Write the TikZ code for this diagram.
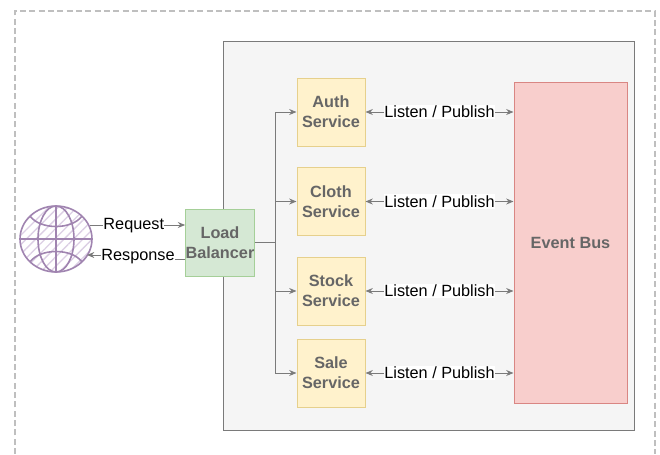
\documentclass[tikz,border=0pt]{standalone}
\usepackage{fontspec}
\setmainfont{Liberation Sans}
\usetikzlibrary{arrows.meta,shapes.geometric,patterns.meta}
\definecolor{edgegray}{HTML}{7A7A7A}
\definecolor{textgray}{HTML}{666666}
\definecolor{yellowfill}{HTML}{FFF2CC}
\definecolor{yellowline}{HTML}{E6D08C}
\definecolor{greenfill}{HTML}{D5E8D4}
\definecolor{greenline}{HTML}{A5CF98}
\definecolor{redfill}{HTML}{F8CECC}
\definecolor{redline}{HTML}{D98683}
\definecolor{globeline}{HTML}{A084B0}
\definecolor{globehatch}{HTML}{DCCFE4}
\tikzset{
	service/.style={draw=#1, line width=0.75pt, rectangle, inner sep=0pt, minimum width=51pt, font=\bfseries\fontsize{12.2}{15}\selectfont, text=textgray, align=center},
	servicebox/.style={service=yellowline, fill=yellowfill, minimum height=51pt},
	link/.style={draw=edgegray, line width=0.75pt, -{Stealth[length=5.5pt,width=4.5pt]}},
	twoway/.style={draw=edgegray, line width=0.75pt, {Stealth[length=5.5pt,width=4.5pt]}-{Stealth[length=5.5pt,width=4.5pt]}},
	tag/.style={fill=white, inner xsep=0pt, inner ysep=1pt, text=black, font=\fontsize{12.2}{15}\selectfont},
	globepart/.style={globeline, line width=1.2pt},
}
\begin{document}
\begin{tikzpicture}[x=0.75pt, y=-0.75pt]
	\useasboundingbox (0,0) rectangle (660,454);
	% outer dashed border, open at the bottom
	\coordinate (BL) at (15,454);
	\coordinate (TL) at (15,11);
	\coordinate (TR) at (655,11);
	\coordinate (BR) at (655,454);
	\draw [dashed, dash pattern=on 4.5pt off 2.5pt, color=black!25, line width=1pt] (BL)--(TL)--(TR)--(BR);
	% inner frame
	\node (frame) [draw=edgegray, fill=black!4, line width=0.75pt, minimum width=308.25pt, minimum height=291.75pt, inner sep=0pt] at (428.5,235.5) {};
	% boxes
	\node (balancer) [service=greenline, fill=greenfill, minimum height=50.25pt] at (220,242.5) {Load\\Balancer};
	\node (auth) [servicebox] at (331,112) {Auth\\Service};
	\node (cloth) [servicebox] at (331,201.5) {Cloth\\Service};
	\node (stock) [servicebox] at (331,291) {Stock\\Service};
	\node (sale) [servicebox] at (331,373) {Sale\\Service};
	\node (bus) [service=redline, fill=redfill, minimum width=84.75pt, minimum height=240.75pt] at (570.5,242.5) {Event Bus};
	% globe
	\node (globe) [ellipse, draw=globeline, line width=1.2pt, inner sep=0pt, minimum width=54pt, minimum height=49.5pt, pattern={Lines[angle=45,distance=5pt,line width=1pt]}, pattern color=globehatch] at (56,239) {};
	\draw [globepart] (56,239) ellipse [x radius=18, y radius=33];
	\draw [globepart] (globe.north)--(globe.south);
	\draw [globepart] (globe.west)--(globe.east);
	\draw [globepart] (30,216) .. controls (40,230) and (72,230) .. (82,216);
	\draw [globepart] (30,262) .. controls (40,248) and (72,248) .. (82,262);
	% client side
	\coordinate (reqstart) at (90,225);
	\coordinate (respend) at (87,255);
	\coordinate (respmid) at (138,255);
	\draw [link] (reqstart)--(reqstart -| balancer.west) node[pos=0.46, tag, yshift=-0.5pt] {Request};
	\draw [link] (balancer.west |- 0,259)--(138,259)--(respmid)--(respend);
	\node (response) [tag, yshift=-1pt] at (respmid) {Response};
	% load balancer to services
	\coordinate (trunk) at (275,242.5);
	\draw [edgegray, line width=0.75pt] (balancer.east)--(trunk);
	\draw [link] (trunk) |- (auth.west);
	\draw [link] (trunk) |- (cloth.west);
	\draw [link] (trunk) |- (stock.west);
	\draw [link] (trunk) |- (sale.west);
	% services to event bus
	\draw [twoway] (auth.east)--(auth.east -| bus.west) node[midway, tag] {Listen / Publish};
	\draw [twoway] (cloth.east)--(cloth.east -| bus.west) node[midway, tag] {Listen / Publish};
	\draw [twoway] (stock.east)--(stock.east -| bus.west) node[midway, tag] {Listen / Publish};
	\draw [twoway] (sale.east)--(sale.east -| bus.west) node[midway, tag] {Listen / Publish};
\end{tikzpicture}
\end{document}
